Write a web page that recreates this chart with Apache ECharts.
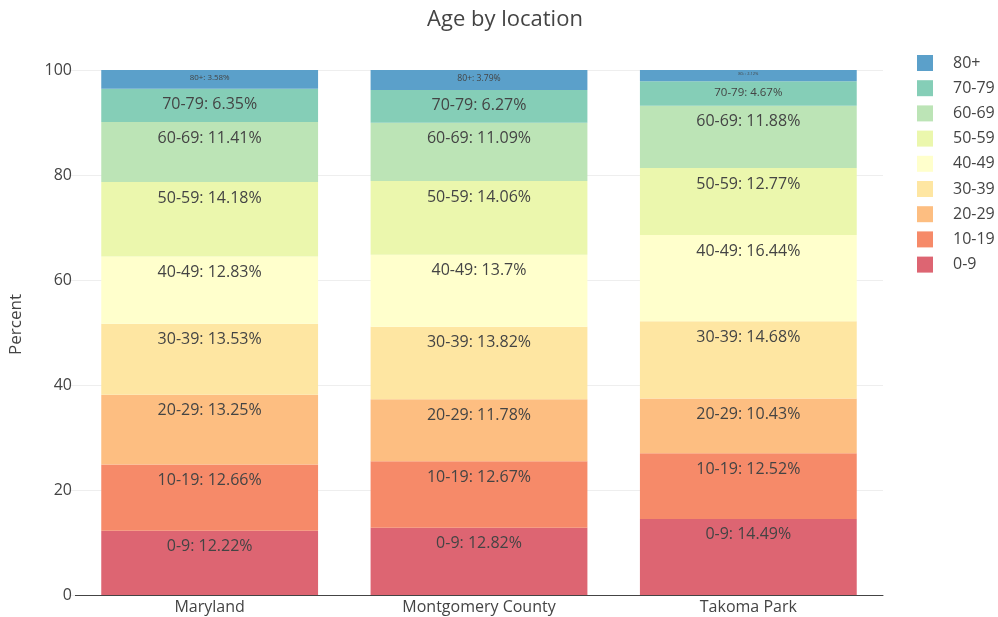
<!DOCTYPE html>
<html>
<head>
<meta charset="utf-8">
<script src="https://cdn.jsdelivr.net/npm/echarts@6/dist/echarts.min.js"></script>
<style>
  html, body { margin: 0; padding: 0; background: #fff; }
  #chart { width: 998px; height: 617px; }
</style>
</head>
<body>
<div id="chart"></div>
<script>
  var locations = ['Maryland', 'Montgomery County', 'Takoma Park'];
  var ageGroups = ['0-9', '10-19', '20-29', '30-39', '40-49', '50-59', '60-69', '70-79', '80+'];
  // 每个年龄段在三个地区的占比(%)
  var age0_9 = [12.22, 12.82, 14.49];
  var age10_19 = [12.66, 12.67, 12.52];
  var age20_29 = [13.25, 11.78, 10.43];
  var age30_39 = [13.53, 13.82, 14.68];
  var age40_49 = [12.83, 13.7, 16.44];
  var age50_59 = [14.18, 14.06, 12.77];
  var age60_69 = [11.41, 11.09, 11.88];
  var age70_79 = [6.35, 6.27, 4.67];
  var age80plus = [3.58, 3.79, 2.12];
  var yTicks = [0, 20, 40, 60, 80, 100];

  var values = [age0_9, age10_19, age20_29, age30_39, age40_49, age50_59, age60_69, age70_79, age80plus];
  var colors = ['#dd6572', '#f68a69', '#fdbe81', '#fee6a2', '#ffffcc', '#ebf7ad', '#bce4b6', '#85ceb7', '#5ba0ca'];

  var plotH = 525; // 像素高度, 用来缩放小色块里的文字

  var series = [];
  for (var i = 0; i < ageGroups.length; i++) {
    var items = [];
    for (var j = 0; j < locations.length; j++) {
      var v = values[i][j];
      var h = v / 100 * plotH;
      var fs = Math.min(16, Math.max(4, (h - 6) * 0.62));
      items.push({
        value: v,
        label: { fontSize: fs, distance: fs * 0.5 }
      });
    }
    series.push({
      name: ageGroups[i],
      type: 'bar',
      stack: 'age',
      barWidth: '80.5%',
      data: items,
      itemStyle: { color: colors[i] },
      label: {
        show: true,
        position: 'insideTop',
        color: '#444',
        fontFamily: 'Open Sans',
        formatter: function (p) { return p.seriesName + ': ' + p.value + '%'; }
      },
      emphasis: { disabled: true }
    });
  }

  var chart = echarts.init(document.getElementById('chart'));
  chart.setOption({
    backgroundColor: '#fff',
    animation: false,
    textStyle: { fontFamily: 'Open Sans' },
    title: {
      text: 'Age by location',
      left: 500,
      textAlign: 'center',
      top: 4,
      textStyle: { fontSize: 22, fontWeight: 'normal', color: '#444', fontFamily: 'Open Sans' }
    },
    legend: {
      orient: 'vertical',
      left: 917,
      top: 55,
      padding: 0,
      itemWidth: 16,
      itemHeight: 16,
      itemGap: 9.2,
      icon: 'rect',
      data: ageGroups.slice().reverse(),
      textStyle: { color: '#444', fontSize: 16, padding: [0, 0, 0, 15] }
    },
    grid: { left: 75, right: 115, top: 70, bottom: 22 },
    xAxis: {
      type: 'category',
      data: locations,
      axisLine: { lineStyle: { color: '#444', width: 1 } },
      axisTick: { show: false },
      axisLabel: { color: '#444', fontSize: 16, margin: 4 }
    },
    yAxis: {
      type: 'value',
      min: yTicks[0],
      max: yTicks[yTicks.length - 1],
      interval: 20,
      name: 'Percent',
      nameLocation: 'middle',
      nameGap: 50,
      nameTextStyle: { color: '#444', fontSize: 17, padding: [0, 0, 0, 16] },
      axisLine: { show: false },
      axisTick: { show: true, length: 6, lineStyle: { color: '#eee' } },
      axisLabel: { color: '#444', fontSize: 16, margin: 3 },
      splitLine: { lineStyle: { color: '#eee' } }
    },
    series: series
  });
</script>
</body>
</html>
